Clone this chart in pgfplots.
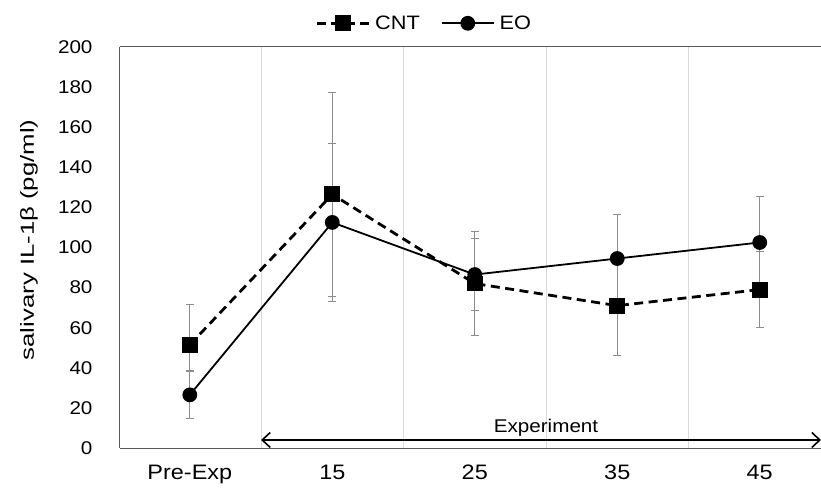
\documentclass[border=0pt]{standalone}
\usepackage{pgfplots}
\pgfplotsset{compat=1.18}
\usetikzlibrary{arrows.meta}
\usepackage{fontspec}
\setmainfont{Liberation Sans}[FakeStretch=1.12]
\newfontfamily\ylfont{Liberation Sans}[FakeStretch=1.36]
\begin{document}
\begin{tikzpicture}
\begin{axis}[
  scale only axis,
  width=701bp, height=401bp,
  xmin=-0.49, xmax=4.43,
  ymin=0, ymax=200,
  ytick={0,20,...,200},
  xtick={0,1,2,3,4},
  xticklabels={Pre-Exp,15,25,35,45},
  minor xtick={0.5,1.5,2.5,3.5},
  xminorgrids,
  minor grid style={black!15, line width=0.8bp},
  major tick length=0pt, minor tick length=0pt,
  axis x line=bottom, axis y line=left,
  axis line style={-, black!65, line width=1bp},
  /pgf/number format/assume math mode=true,
  yticklabel style={font=\fontsize{18.5}{21}\selectfont, anchor=east, xshift=-24bp},
  xticklabel style={font=\fontsize{21}{24}\selectfont, anchor=base, yshift=-31bp},
  legend columns=2,
  legend style={at={(0.434,1)}, anchor=south, yshift=12bp, draw=none, fill=none,
    font=\fontsize{19.5}{23}\selectfont,
    /tikz/every odd column/.append style={column sep=3bp},
    /tikz/every even column/.append style={column sep=19bp}},
  legend image code/.code={\draw[mark repeat=2,mark phase=2] plot coordinates {(0bp,0bp)(26bp,0bp)(52bp,0bp)};},
  clip=false,
]
\coordinate (bl) at (rel axis cs:0,0);
\coordinate (tr) at (rel axis cs:1,1);
\addplot[black, line width=2.8bp, dash pattern=on 9bp off 5.5bp, mark=square*, mark size=6.5bp,
  mark options={solid},
  error bars/.cd, y dir=both, y explicit,
  error bar style={black!45, line width=0.9bp, solid},
  error mark options={rotate=90, mark size=4bp, black!45, line width=0.9bp, solid}]
coordinates {
  (0,51.5) += (0,20.2) -= (0,13.5)
  (1,126.5) +- (0,51)
  (2,82) +- (0,26)
  (3,71) +- (0,25)
  (4,79) +- (0,19)
};
\addlegendentry{CNT}
\addplot[black, line width=1.8bp, mark=*, mark size=6.5bp,
  error bars/.cd, y dir=both, y explicit,
  error bar style={black!45, line width=0.9bp},
  error mark options={rotate=90, mark size=4bp, black!45, line width=0.9bp}]
coordinates {
  (0,26.5) +- (0,12)
  (1,112.5) +- (0,39.5)
  (2,86.5) +- (0,18)
  (3,94.5) +- (0,22)
  (4,102.5) +- (0,23)
};
\addlegendentry{EO}
\draw[black!65, line width=1bp] (rel axis cs:0,1) -- (rel axis cs:1,1);
\draw[<->, >={Straight Barb[length=8bp, width=15bp]}, line width=1.6bp] (axis cs:0.5,4) -- (axis cs:4.43,4);
\node[font=\fontsize{18.5}{21}\selectfont, anchor=base] at (axis cs:2.5,7.5) {Experiment};
\node[font=\ylfont\fontsize{19}{22}\selectfont, rotate=90, anchor=center] at ([xshift=-91bp]rel axis cs:0,0.519) {salivary IL-1β (pg/ml)};
\end{axis}
\pgfresetboundingbox
\path ([shift={(-120bp,-41bp)}]bl) rectangle ([shift={(0bp,47bp)}]tr);
\end{tikzpicture}
\end{document}
